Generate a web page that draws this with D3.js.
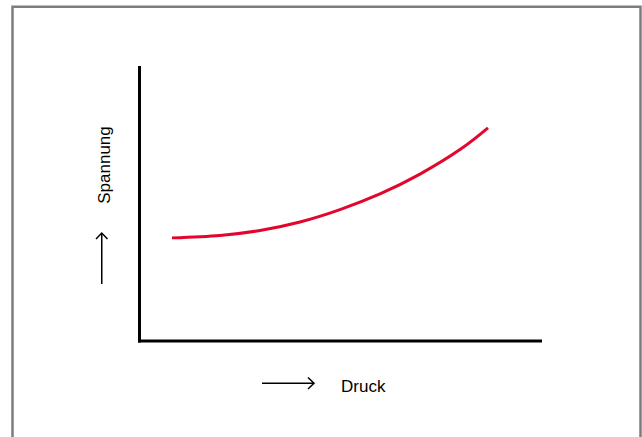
<!DOCTYPE html>
<html>
<head>
<meta charset="utf-8">
<script src="https://cdn.jsdelivr.net/npm/d3@7"></script>
<style>
html,body{margin:0;padding:0;background:#fff;}
svg{display:block;}
</style>
</head>
<body>
<svg id="chart" width="642" height="437"></svg>
<script>
// Data (arbitrary units: Druck = pressure, Spannung = voltage)
const druck    = [8, 20, 30, 40, 50, 60, 70, 80, 87];
const spannung = [37.5, 38.4, 40.2, 43.3, 47.8, 53.5, 60.7, 69.6, 77.5];
const xLabel = "Druck";
const yLabel = "Spannung";

const svg = d3.select("#chart");

// frame
svg.append("rect")
  .attr("x", 12.5).attr("y", 6.75)
  .attr("width", 628).attr("height", 440)
  .attr("fill", "#fff")
  .attr("stroke", "#7d7d7d").attr("stroke-width", 2.5);

const x = d3.scaleLinear().domain([0, 100]).range([140, 540]);
const y = d3.scaleLinear().domain([0, 100]).range([341, 66]);

// axes (plain lines, no ticks)
svg.append("line")
  .attr("x1", x(0) - 0.5).attr("x2", x(0) - 0.5)
  .attr("y1", y(100)).attr("y2", y(0) + 1.5)
  .attr("stroke", "#000").attr("stroke-width", 3);
svg.append("line")
  .attr("x1", x(0) - 2).attr("x2", 542)
  .attr("y1", y(0)).attr("y2", y(0))
  .attr("stroke", "#000").attr("stroke-width", 3);

// curve
const line = d3.line()
  .x((d, i) => x(druck[i]))
  .y(d => y(d))
  .curve(d3.curveNatural);
svg.append("path")
  .datum(spannung)
  .attr("d", line)
  .attr("fill", "none")
  .attr("stroke", "#e2062c")
  .attr("stroke-width", 3)
  .attr("stroke-linecap", "butt");

const font = "'Liberation Sans', Arial, Helvetica, sans-serif";

// y label + arrow
svg.append("text")
  .attr("transform", "translate(110,165) rotate(-90)")
  .attr("text-anchor", "middle")
  .attr("font-family", font)
  .attr("font-size", 17)
  .attr("fill", "#000")
  .text(yLabel);
const ay = svg.append("g").attr("stroke", "#000").attr("stroke-width", 1.5).attr("fill", "none");
ay.append("line").attr("x1", 101.75).attr("x2", 101.75).attr("y1", 284).attr("y2", 233);
ay.append("path").attr("d", "M96,239 L101.75,233 L107.5,239");

// x label + arrow
svg.append("text")
  .attr("x", 341).attr("y", 392)
  .attr("font-family", font)
  .attr("font-size", 17)
  .attr("fill", "#000")
  .text(xLabel);
const ax = svg.append("g").attr("stroke", "#000").attr("stroke-width", 1.5).attr("fill", "none");
ax.append("line").attr("x1", 262).attr("x2", 314).attr("y1", 383.25).attr("y2", 383.25);
ax.append("path").attr("d", "M308,377.5 L314,383.25 L308,389");
</script>
</body>
</html>
